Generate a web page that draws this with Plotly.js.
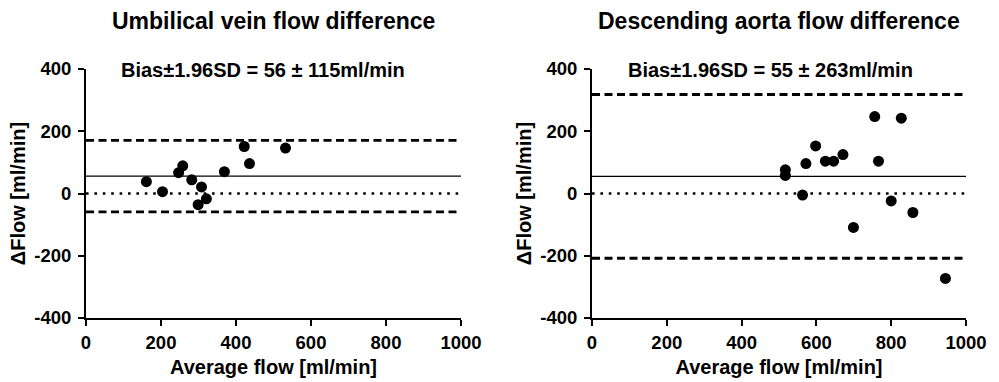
<!DOCTYPE html>
<html><head><meta charset="utf-8">
<script src="https://cdn.plot.ly/plotly-3.0.1.min.js"></script>
<style>html,body{margin:0;padding:0;background:#fff}#chart{width:999px;height:382px}</style>
</head><body><div id="chart"></div>
<script>
const panelTitles = ["Umbilical vein flow difference", "Descending aorta flow difference"];
const uvAverage = [161, 204, 247, 258, 282, 299, 308, 321, 369, 422, 436, 532];
const uvDiff    = [38, 6, 67, 89, 44, -36, 21, -17, 70, 151, 96, 146];
const daAverage = [517, 517, 563, 572, 598, 624, 646, 671, 699, 756, 766, 800, 827, 858, 945];
const daDiff    = [76, 58, -5, 96, 153, 104, 104, 125, -109, 247, 104, -24, 242, -61, -273];
const bias = [56, 55];
const limit196 = [115, 263];
const xSpan = [0, 1000];
const xTicks = [0, 200, 400, 600, 800, 1000];
const xTickLabels = ["0", "200", "400", "600", "800", "1000"];
const yTicks = [-400, -200, 0, 200, 400];
const yTickLabels = ["-400", "-200", "0", "200", "400"];
const xTitle = "Average flow [ml/min]";
const yTitle = "ΔFlow [ml/min]";

const FONT = "Liberation Sans, Arial, sans-serif";
const pts = [[uvAverage, uvDiff], [daAverage, daDiff]];
const traces = [];
[0, 1].forEach(i => {
  const xa = i === 0 ? 'x' : 'x2', ya = i === 0 ? 'y' : 'y2';
  const b = bias[i], l = limit196[i];
  traces.push({x: xSpan, y: [0, 0], xaxis: xa, yaxis: ya, mode: 'lines',
    line: {color: '#000', width: 2.6, dash: '2.6px,5.8px'}, hoverinfo: 'skip'});
  traces.push({x: xSpan, y: [b, b], xaxis: xa, yaxis: ya, mode: 'lines',
    line: {color: '#000', width: 1.2}, hoverinfo: 'skip'});
  traces.push({x: xSpan, y: [b + l, b + l], xaxis: xa, yaxis: ya, mode: 'lines',
    line: {color: '#000', width: 2.8, dash: '8px,4.5px'}, hoverinfo: 'skip'});
  traces.push({x: xSpan, y: [b - l, b - l], xaxis: xa, yaxis: ya, mode: 'lines',
    line: {color: '#000', width: 2.8, dash: '8px,4.5px'}, hoverinfo: 'skip'});
  traces.push({x: pts[i][0], y: pts[i][1], xaxis: xa, yaxis: ya, mode: 'markers',
    marker: {color: '#000', size: 11, symbol: 'circle'}, cliponaxis: false});
});

const W = 999, H = 382;
const tickFont = {family: FONT, size: 18.5, color: '#000', weight: 'bold'};
function xAxis(l, r, anchor) {
  return {domain: [l / W, r / W], range: xSpan, anchor: anchor, tickvals: xTicks, ticktext: xTickLabels,
    showgrid: false, zeroline: false, showline: true, linecolor: '#000', linewidth: 2,
    ticks: 'outside', ticklen: 6, tickwidth: 2, tickcolor: '#000', tickfont: tickFont,
    ticklabelstandoff: 1, automargin: false,
    title: {text: xTitle, font: {family: FONT, size: 20, color: '#000', weight: 'bold'}, standoff: 8}};
}
function yAxis(anchor) {
  return {domain: [1 - 318 / H, 1 - 69 / H], range: [-400, 400], anchor: anchor, tickvals: yTicks, ticktext: yTickLabels,
    showgrid: false, zeroline: false, showline: true, linecolor: '#000', linewidth: 2,
    ticks: 'outside', ticklen: 6, tickwidth: 2, tickcolor: '#000', tickfont: tickFont,
    ticklabelstandoff: 3, automargin: false,
    title: {text: yTitle, font: {family: FONT, size: 20, color: '#000', weight: 'bold'}, standoff: 3}};
}

const annFont = {family: FONT, size: 20, color: '#000', weight: 'bold'};
const titleFont = {family: FONT, size: 23, color: '#000', weight: 'bold'};
const annotations = [
  {text: panelTitles[0], xref: 'paper', yref: 'paper', x: 273.5 / W, y: 1 - 21 / H, xanchor: 'center', yanchor: 'middle', showarrow: false, font: titleFont},
  {text: panelTitles[1], xref: 'paper', yref: 'paper', x: 779 / W, y: 1 - 21 / H, xanchor: 'center', yanchor: 'middle', showarrow: false, font: titleFont},
  {text: 'Bias±1.96SD = ' + bias[0] + ' ± ' + limit196[0] + 'ml/min', xref: 'paper', yref: 'paper', x: 262.5 / W, y: 1 - 70 / H, xanchor: 'center', yanchor: 'middle', showarrow: false, font: annFont},
  {text: 'Bias±1.96SD = ' + bias[1] + ' ± ' + limit196[1] + 'ml/min', xref: 'paper', yref: 'paper', x: 770 / W, y: 1 - 70 / H, xanchor: 'center', yanchor: 'middle', showarrow: false, font: annFont}
];

const layout = {
  width: W, height: H, margin: {l: 0, r: 0, t: 0, b: 0},
  paper_bgcolor: '#fff', plot_bgcolor: '#fff', showlegend: false,
  font: {family: FONT, color: '#000'},
  xaxis: xAxis(86, 461, 'y'), yaxis: yAxis('x'),
  xaxis2: xAxis(592, 966, 'y2'), yaxis2: yAxis('x2'),
  annotations: annotations
};
Plotly.newPlot('chart', traces, layout, {displayModeBar: false, staticPlot: true});
</script></body></html>
